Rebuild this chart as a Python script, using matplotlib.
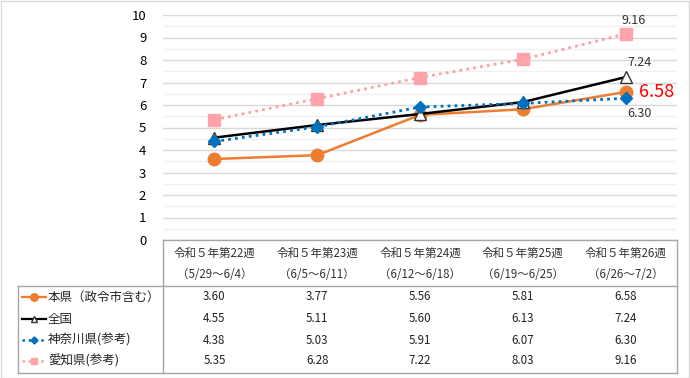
import matplotlib
matplotlib.use("Agg")
import matplotlib.pyplot as plt
from matplotlib.ticker import MultipleLocator
from matplotlib.lines import Line2D
from matplotlib.transforms import blended_transform_factory

plt.rcParams['font.family'] = ['Noto Sans CJK JP', 'DejaVu Sans']

weeks = ["令和５年第22週", "令和５年第23週", "令和５年第24週", "令和５年第25週", "令和５年第26週"]
periods = ["（5/29～6/4）", "（6/5～6/11）", "（6/12～6/18）", "（6/19～6/25）", "（6/26～7/2）"]
series_names = ["本県（政令市含む）", "全国", "神奈川県(参考)", "愛知県(参考)"]
honken = [3.60, 3.77, 5.56, 5.81, 6.58]
zenkoku = [4.55, 5.11, 5.60, 6.13, 7.24]
kanagawa = [4.38, 5.03, 5.91, 6.07, 6.30]
aichi = [5.35, 6.28, 7.22, 8.03, 9.16]
yticks = list(range(0, 11))

W, H = 690, 378
fig = plt.figure(figsize=(W/100, H/100), dpi=100)

def fx(px): return px / W
def fy(py): return 1 - py / H

ax = fig.add_axes([fx(163), fy(240), fx(677) - fx(163), fy(15) - fy(240)])
x = list(range(len(weeks)))
ax.set_xlim(-0.5, len(weeks) - 0.5)
ax.set_ylim(0, 10)
ax.set_yticks(yticks)
ax.yaxis.set_minor_locator(MultipleLocator(0.5))
ax.grid(axis='y', which='major', color='#D9D9D9', lw=1)
ax.grid(axis='y', which='minor', color='#F0F0F0', lw=1)
ax.set_axisbelow(True)
ax.set_xticks([])
for s in ax.spines.values():
    s.set_visible(False)
ax.tick_params(axis='y', which='both', length=0, labelsize=9.5, pad=12)

styles = [
    dict(color='#ED7D31', ls='-', lw=1.8, marker='o', ms=9, mfc='#ED7D31', mec='#ED7D31'),
    dict(color='black', ls='-', lw=1.8, marker='^', ms=8, mfc='white', mec='#333333'),
    dict(color='#0070C0', ls=(0, (1, 1.5)), lw=2, marker='D', ms=6, mfc='#0070C0', mec='#0070C0'),
    dict(color='#FF9FA6', ls=(0, (1, 1.5)), lw=2, marker='s', ms=8, mfc='#FFA3AA', mec='#FFA3AA'),
]
data = [honken, zenkoku, kanagawa, aichi]
zorders = [3, 4, 5, 2]
for d, st, z in zip(data, styles, zorders):
    ax.plot(x, d, zorder=z, clip_on=False, **st)

last = len(weeks) - 1
ax.annotate(f"{aichi[last]:.2f}", (last, aichi[last]), xytext=(6, 5), textcoords='offset points',
            ha='center', va='bottom', fontsize=9, color='#333333')
ax.annotate(f"{zenkoku[last]:.2f}", (last, zenkoku[last]), xytext=(10, 6), textcoords='offset points',
            ha='center', va='bottom', fontsize=9, color='#333333')
ax.annotate(f"{honken[last]:.2f}", (last, honken[last]), xytext=(10, 0), textcoords='offset points',
            ha='left', va='center', fontsize=13, color='#FF0000')
ax.annotate(f"{kanagawa[last]:.2f}", (last, kanagawa[last]), xytext=(10, -6), textcoords='offset points',
            ha='center', va='top', fontsize=9, color='#333333')

# Data table
tc = '#A6A6A6'
def fline(x0, x1, y0, y1):
    fig.add_artist(Line2D([fx(x0), fx(x1)], [fy(y0), fy(y1)], color=tc, lw=1))

fline(163, 677, 240, 240)
fline(18, 677, 286, 286)
fline(18, 677, 373, 373)
fline(18, 18, 286, 373)
fline(163, 163, 240, 373)
fline(677, 677, 240, 373)

tr = blended_transform_factory(ax.transData, fig.transFigure)
for i in x:
    fig.text(i, fy(253), weeks[i], transform=tr, ha='center', va='center', fontsize=8.3, color='#333333')
    fig.text(i, fy(274), periods[i], transform=tr, ha='center', va='center', fontsize=8.3, color='#333333')

row_y = [297, 319, 340, 361]
for r, (d, st, name) in enumerate(zip(data, styles, series_names)):
    yy = fy(row_y[r])
    for i in x:
        fig.text(i, yy, f"{d[i]:.2f}", transform=tr, ha='center', va='center', fontsize=8.3, color='#222222')
    ms = st['ms'] * 0.6
    stl = {k: v for k, v in st.items() if k not in ('marker', 'ms', 'mfc', 'mec')}
    stl['lw'] = st['lw'] * 0.9
    fig.add_artist(Line2D([fx(22), fx(46)], [yy, yy], **stl))
    fig.add_artist(Line2D([fx(34)], [yy], ls='none', marker=st['marker'], ms=ms, mfc=st['mfc'], mec=st['mec']))
    fig.text(fx(48), yy, name, ha='left', va='center', fontsize=9, color='#222222')

# outer frame
fig.add_artist(plt.Rectangle((0.001, 0.001), 0.997, 0.997, transform=fig.transFigure, fill=False, ec='#D9D9D9', lw=1))

fig.savefig("out.png", dpi=100)
